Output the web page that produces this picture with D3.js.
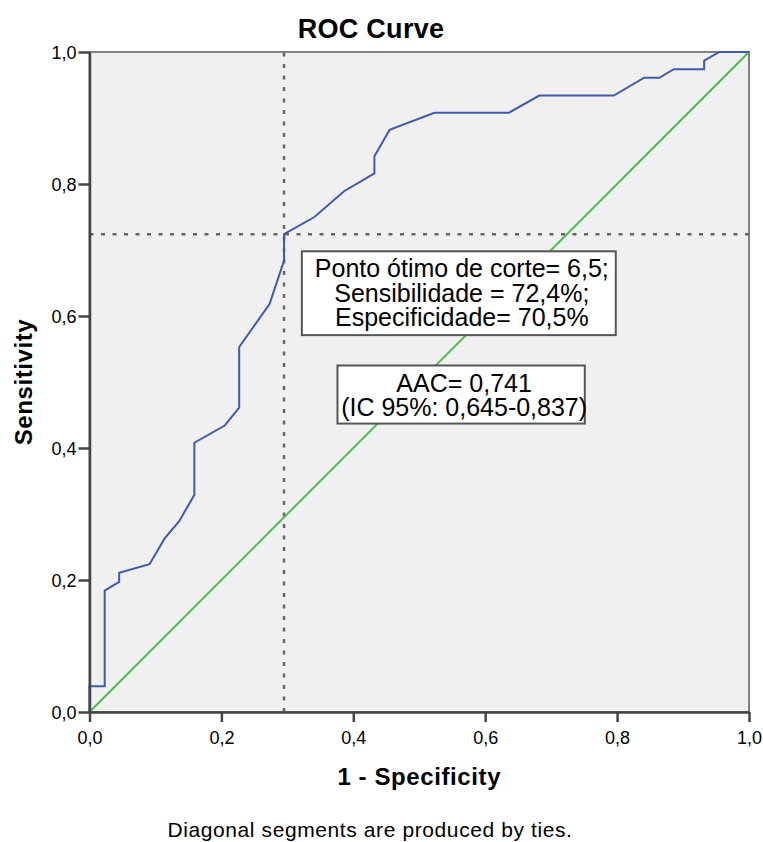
<!DOCTYPE html>
<html>
<head>
<meta charset="utf-8">
<script src="https://cdn.jsdelivr.net/npm/d3@7"></script>
<style>
  body { margin: 0; background: #fff; }
  text { font-family: "Liberation Sans", Arial, sans-serif; fill: #000; }
</style>
</head>
<body>
<div id="chart"></div>
<script>
// ROC points (1 - specificity, sensitivity)
let fpr = [0, 0, 0.023, 0.023, 0.045, 0.045, 0.091, 0.114, 0.136, 0.159, 0.159, 0.205, 0.227, 0.227,
           0.273, 0.295, 0.295, 0.341, 0.386, 0.432, 0.432, 0.455, 0.523, 0.636, 0.682, 0.795,
           0.841, 0.864, 0.886, 0.932, 0.932, 0.955, 1];
let tpr = [0, 0.039, 0.039, 0.184, 0.197, 0.211, 0.224, 0.263, 0.289, 0.329, 0.408, 0.434, 0.461, 0.553,
           0.618, 0.684, 0.724, 0.750, 0.789, 0.816, 0.842, 0.882, 0.908, 0.908, 0.934, 0.934,
           0.961, 0.961, 0.974, 0.974, 0.987, 1, 1];
let ticks = [0, 0.2, 0.4, 0.6, 0.8, 1.0];
let cutSpec = 0.705;
let cutSens = 0.724;
let box1Lines = ['Ponto ótimo de corte= 6,5;', 'Sensibilidade = 72,4%;', 'Especificidade= 70,5%'];
let box2Lines = ['AAC= 0,741', '(IC 95%: 0,645-0,837)'];

let width = 763, height = 842;
let plot = {left: 89.5, right: 749, top: 52, bottom: 712};

let svg = d3.select('#chart').append('svg')
    .attr('width', width)
    .attr('height', height);

let x = d3.scaleLinear().domain([0, 1]).range([plot.left, plot.right]);
let y = d3.scaleLinear().domain([0, 1]).range([plot.bottom, plot.top]);
let fmt = d => d3.format('.1f')(d).replace('.', ',');

// plot background + frame
svg.append('rect')
    .attr('x', plot.left).attr('y', plot.top)
    .attr('width', plot.right - plot.left).attr('height', plot.bottom - plot.top)
    .attr('fill', '#f0f0f0')
    .attr('stroke', '#808080')
    .attr('stroke-width', 2);

// cutoff guides
svg.append('line')
    .attr('x1', x(0)).attr('x2', x(1))
    .attr('y1', y(cutSens)).attr('y2', y(cutSens))
    .attr('stroke', '#666').attr('stroke-width', 2.5)
    .attr('stroke-dasharray', '4,7.5');
svg.append('line')
    .attr('x1', x(1 - cutSpec)).attr('x2', x(1 - cutSpec))
    .attr('y1', y(0)).attr('y2', y(1))
    .attr('stroke', '#666').attr('stroke-width', 2.5)
    .attr('stroke-dasharray', '4,7.5');

// reference diagonal
svg.append('line')
    .attr('x1', x(0)).attr('y1', y(0))
    .attr('x2', x(1)).attr('y2', y(1))
    .attr('stroke', '#4cbb4f').attr('stroke-width', 2);

// ROC curve
let pts = fpr.map((d, i) => [d, tpr[i]]);
svg.append('path')
    .datum(pts)
    .attr('fill', 'none')
    .attr('stroke', '#3f5aae')
    .attr('stroke-width', 2)
    .attr('d', d3.line().x(d => x(d[0])).y(d => y(d[1])));

// axes
let xAxis = svg.append('g')
    .attr('transform', `translate(0, ${plot.bottom})`)
    .call(d3.axisBottom(x).tickValues(ticks).tickFormat(fmt).tickSize(10).tickSizeOuter(0));
let yAxis = svg.append('g')
    .attr('transform', `translate(${plot.left}, 0)`)
    .call(d3.axisLeft(y).tickValues(ticks).tickFormat(fmt).tickSize(11).tickSizeOuter(0));
[xAxis, yAxis].forEach(g => {
    g.select('.domain').attr('stroke', '#444').attr('stroke-width', 2.5);
    g.selectAll('.tick line').attr('stroke', '#444').attr('stroke-width', 2.5);
    g.selectAll('.tick text')
        .style('font-family', '"Liberation Sans", Arial, sans-serif')
        .style('font-size', '18px')
        .attr('fill', '#222');
});
xAxis.selectAll('.tick text').attr('dy', '1.05em');
yAxis.selectAll('.tick text').attr('x', -13).attr('dy', '0.36em');

// annotation boxes
function box(x0, x1, y0, y1, lines, firstBase) {
    svg.append('rect')
        .attr('x', x(x0)).attr('y', y(y1))
        .attr('width', x(x1) - x(x0)).attr('height', y(y0) - y(y1))
        .attr('fill', '#fff')
        .attr('stroke', '#555')
        .attr('stroke-width', 2);
    svg.append('text')
        .attr('text-anchor', 'middle')
        .style('font-size', '25px')
        .selectAll('tspan')
        .data(lines)
        .join('tspan')
            .attr('x', (x(x0) + x(x1)) / 2 + 3)
            .attr('y', (d, i) => y(y1) + firstBase + i * 24.5)
            .text(d => d);
}
box(0.322, 0.798, 0.571, 0.698, box1Lines, 26);
box(0.376, 0.751, 0.437, 0.525, box2Lines, 26);

// titles
svg.append('text')
    .attr('x', 371).attr('y', 38)
    .attr('text-anchor', 'middle')
    .style('font-size', '27px').style('font-weight', 'bold')
    .style('letter-spacing', '0.3px')
    .text('ROC Curve');
svg.append('text')
    .attr('x', (plot.left + plot.right) / 2).attr('y', 785)
    .attr('text-anchor', 'middle')
    .style('font-size', '24px').style('font-weight', 'bold')
    .style('letter-spacing', '0.6px')
    .text('1 - Specificity');
svg.append('text')
    .attr('transform', `translate(32, ${(plot.top + plot.bottom) / 2}) rotate(-90)`)
    .attr('text-anchor', 'middle')
    .style('font-size', '24px').style('font-weight', 'bold')
    .style('letter-spacing', '0.6px')
    .text('Sensitivity');
svg.append('text')
    .attr('x', 370).attr('y', 837)
    .attr('text-anchor', 'middle')
    .style('font-size', '21px')
    .style('letter-spacing', '0.6px')
    .attr('fill', '#222')
    .text('Diagonal segments are produced by ties.');
</script>
</body>
</html>
